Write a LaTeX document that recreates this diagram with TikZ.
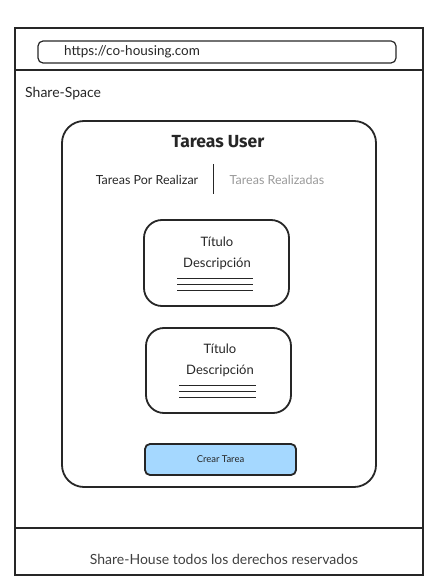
\documentclass[tikz,border=0pt]{standalone}
\usepackage{fontspec}
\setmainfont{Lato}
\newfontfamily\titlefont{Fira Sans}
\begin{document}
\begin{tikzpicture}[x=1pt,y=-1pt,
  frame/.style={draw=black!85,line width=1.2pt},
  card/.style={draw=black!85,line width=1.8pt,rounded corners=18pt},
  txt/.style={inner sep=0pt,text=black!85},
  rule/.style={draw=black!85,line width=0.7pt}]
\useasboundingbox (0,0) rectangle (439,585);
% outer frame
\draw[frame] (15,28) rectangle (423,575);
\draw[frame] (15,70) -- (423,70);
\draw[frame] (15,528) -- (423,528);
% url bar
\node[draw=black!85,line width=1.2pt,rounded corners=5pt,minimum width=358pt,minimum height=22pt,inner sep=0pt] (url) at (217,52) {};
\node[txt,anchor=west,font=\fontsize{13.5}{15}\selectfont] (urltxt) at (64,52) {https://co-housing.com};
\node[txt,anchor=west,font=\fontsize{14}{16}\selectfont] (brand) at (25,94) {Share-Space};
% main card
\draw[card,rounded corners=22pt] (62,121) rectangle (376,487);
\node[txt,font=\titlefont\bfseries\fontsize{17.5}{20}\selectfont] (title) at (218,142) {Tareas User};
\node[txt,font=\fontsize{12.5}{14}\selectfont] (tab1) at (147,180) {Tareas Por Realizar};
\node[txt,font=\fontsize{12.5}{14}\selectfont,text=black!40] (tab2) at (277,180) {Tareas Realizadas};
\coordinate (d1) at (213,164);
\coordinate (d2) at (213,194);
\draw[rule,line width=1pt] (d1) -- (d2);
% task card 1
\draw[card] (144,220) rectangle (289,306);
\node[txt,font=\fontsize{13}{15}\selectfont] (t1) at (217,242) {Título};
\node[txt,font=\fontsize{13}{15}\selectfont] (desc1) at (217,264) {Descripción};
\draw[rule] (177,278) -- (253,278);
\draw[rule] (177,284) -- (253,284);
\draw[rule] (177,290) -- (253,290);
% task card 2
\draw[card] (146,328) rectangle (291,413);
\node[txt,font=\fontsize{13}{15}\selectfont] (t2) at (220,349) {Título};
\node[txt,font=\fontsize{13}{15}\selectfont] (desc2) at (220,371) {Descripción};
\draw[rule] (179,385) -- (256,385);
\draw[rule] (179,391) -- (256,391);
\draw[rule] (179,397) -- (256,397);
% button
\node[draw=black!85,line width=1.8pt,rounded corners=5pt,fill={rgb,255:red,165;green,216;blue,255},minimum width=151pt,minimum height=31pt,inner sep=0pt,font=\fontsize{9.5}{11}\selectfont,text=black!85] (btn) at (220.5,459.5) {Crear Tarea};
% footer
\node[txt,font=\fontsize{14}{16}\selectfont,text=black!75] (foot) at (224,559) {Share-House todos los derechos reservados};
\end{tikzpicture}
\end{document}
